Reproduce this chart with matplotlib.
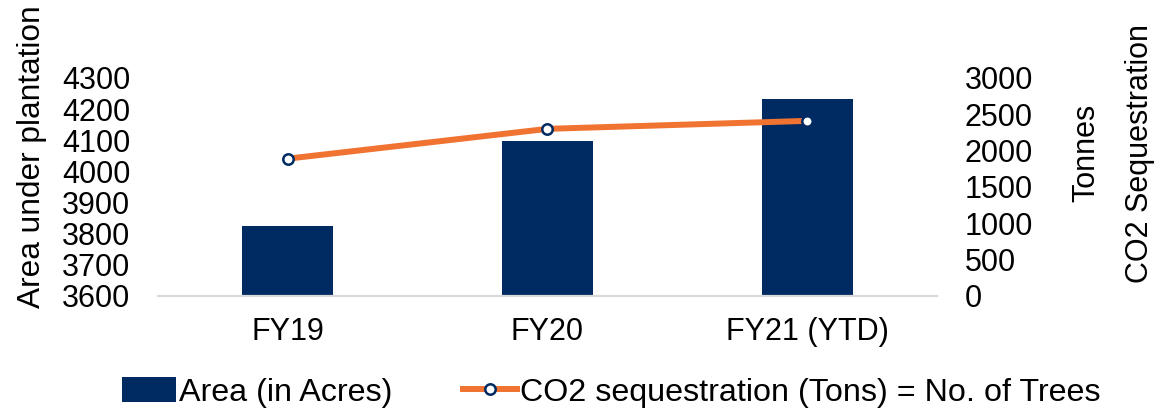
import numpy as np
import matplotlib
matplotlib.use("Agg")
import matplotlib.pyplot as plt

plt.rcParams['font.family'] = ['Liberation Sans', 'DejaVu Sans']

# data
years = ['FY19', 'FY20', 'FY21 (YTD)']
area_acres = [3825, 4098, 4233]
co2_tons = [1890, 2300, 2410]
left_ticks = [3600, 3700, 3800, 3900, 4000, 4100, 4200, 4300]
right_ticks = [0, 500, 1000, 1500, 2000, 2500, 3000]

bar_color = '#002B62'
line_color = '#F07332'
fs = 22

fig = plt.figure(figsize=(11.73, 4.12), dpi=100)
ax = fig.add_axes([0.1347, 0.2816, 0.6641, 0.5291])
ax2 = ax.twinx()

x = np.arange(len(years))
bars = ax.bar(x, area_acres, width=0.35, color=bar_color, label='Area (in Acres)', zorder=2)
line, = ax2.plot(x, co2_tons, color=line_color, linewidth=4.3, marker='o',
                 markersize=7.5, markerfacecolor='white', markeredgecolor=bar_color,
                 markeredgewidth=1.8, label='CO2 sequestration (Tons) = No. of Trees',
                 zorder=3)

ax.set_xlim(-0.5, 2.5)
ax.set_ylim(3600, 4300)
ax.set_yticks(left_ticks)
ax2.set_ylim(0, 3000)
ax2.set_yticks(right_ticks)
ax.set_xticks(x)
ax.set_xticklabels(years)

for a in (ax, ax2):
    for s in ('top', 'left', 'right'):
        a.spines[s].set_visible(False)
    a.spines['bottom'].set_color('#D9D9D9')
    a.spines['bottom'].set_linewidth(1.6)
ax2.spines['bottom'].set_visible(False)

ax.tick_params(axis='y', length=0, pad=20, labelsize=fs)
ax.tick_params(axis='x', length=0, pad=15, labelsize=fs)
ax2.tick_params(axis='y', length=0, pad=20, labelsize=fs)

ax.set_ylabel('Area under plantation', fontsize=22.8, va='center')
ax.yaxis.set_label_coords(-0.162, 0.638)
ax2.set_ylabel('Tonnes\nCO2 Sequestration', fontsize=fs, va='center', ha='center',
               rotation=90, linespacing=2.0)
ax2.yaxis.set_label_coords(1.226, 0.655)

fig.legend(handles=[bars, line], loc='center', bbox_to_anchor=(0.521, 0.047),
           ncol=2, frameon=False, fontsize=23.2, handlelength=1.66,
           handletextpad=0.1, columnspacing=2.2, handleheight=0.8)

fig.savefig('out.png', dpi=100)
